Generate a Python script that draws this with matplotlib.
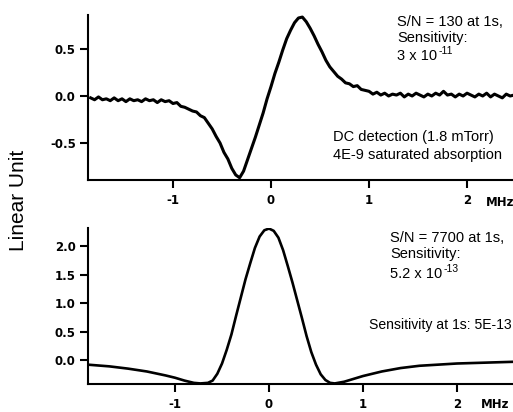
import matplotlib
matplotlib.use("Agg")
import matplotlib.pyplot as plt

plt.rcParams['font.family'] = ['Liberation Sans', 'DejaVu Sans']
plt.rcParams['axes.unicode_minus'] = False

# ---- data: top panel (DC detection, noisy dispersion-like trace) ----
top_x = [-1.84, -1.80, -1.76, -1.72, -1.68, -1.64, -1.60, -1.56, -1.52, -1.48,
         -1.44, -1.40, -1.36, -1.32, -1.28, -1.24, -1.20, -1.16, -1.12, -1.08,
         -1.04, -1.00, -0.96, -0.92, -0.88, -0.84, -0.80, -0.76, -0.72, -0.68,
         -0.64, -0.60, -0.56, -0.52, -0.48, -0.44, -0.40, -0.36, -0.32, -0.28,
         -0.24, -0.20, -0.16, -0.12, -0.08, -0.04, 0.00, 0.04, 0.08, 0.12,
         0.16, 0.20, 0.24, 0.28, 0.32, 0.36, 0.40, 0.44, 0.48, 0.52,
         0.56, 0.60, 0.64, 0.68, 0.72, 0.76, 0.80, 0.84, 0.88, 0.92,
         0.96, 1.00, 1.04, 1.08, 1.12, 1.16, 1.20, 1.24, 1.28, 1.32,
         1.36, 1.40, 1.44, 1.48, 1.52, 1.56, 1.60, 1.64, 1.68, 1.72,
         1.76, 1.80, 1.84, 1.88, 1.92, 1.96, 2.00, 2.04, 2.08, 2.12,
         2.16, 2.20, 2.24, 2.28, 2.32, 2.36, 2.40, 2.44, 2.48]
top_y = [-0.02, -0.04, -0.01, -0.04, -0.03, -0.05, -0.02, -0.05, -0.03, -0.06,
         -0.03, -0.05, -0.04, -0.06, -0.03, -0.05, -0.04, -0.07, -0.04, -0.06,
         -0.05, -0.08, -0.07, -0.11, -0.12, -0.14, -0.16, -0.17, -0.21, -0.23,
         -0.29, -0.35, -0.43, -0.50, -0.60, -0.67, -0.77, -0.84, -0.87, -0.80,
         -0.68, -0.56, -0.44, -0.31, -0.18, -0.03, 0.10, 0.24, 0.36, 0.49,
         0.61, 0.70, 0.78, 0.83, 0.84, 0.79, 0.72, 0.64, 0.55, 0.47,
         0.38, 0.31, 0.26, 0.21, 0.18, 0.14, 0.13, 0.10, 0.11, 0.07,
         0.06, 0.05, 0.02, 0.04, 0.01, 0.03, 0.00, 0.02, 0.01, 0.03,
         -0.01, 0.02, 0.00, 0.03, 0.01, -0.01, 0.02, 0.00, 0.03, 0.01,
         0.05, 0.01, 0.02, -0.01, 0.02, 0.00, 0.03, 0.01, -0.01, 0.02,
         0.00, 0.03, -0.01, 0.02, 0.00, -0.02, 0.02, 0.00, 0.01]

# ---- data: bottom panel (smooth absorption-like trace) ----
bot_x = [-1.93, -1.70, -1.50, -1.30, -1.10, -1.00, -0.90, -0.80, -0.73, -0.65,
         -0.60, -0.55, -0.50, -0.45, -0.40, -0.35, -0.30, -0.25, -0.20, -0.15,
         -0.10, -0.05, 0.00, 0.05, 0.10, 0.15, 0.20, 0.25, 0.30, 0.35,
         0.40, 0.45, 0.50, 0.55, 0.60, 0.65, 0.70, 0.80, 0.90, 1.00,
         1.20, 1.40, 1.60, 1.80, 2.00, 2.20, 2.40, 2.60]
bot_y = [-0.08, -0.11, -0.15, -0.20, -0.27, -0.31, -0.36, -0.40, -0.41, -0.40,
         -0.36, -0.24, -0.06, 0.18, 0.45, 0.78, 1.10, 1.42, 1.70, 1.97,
         2.17, 2.28, 2.31, 2.27, 2.15, 1.93, 1.65, 1.36, 1.05, 0.74,
         0.42, 0.14, -0.08, -0.25, -0.35, -0.40, -0.41, -0.38, -0.33, -0.28,
         -0.20, -0.14, -0.10, -0.08, -0.06, -0.05, -0.04, -0.03]

top_yticks = [-0.5, 0.0, 0.5]
top_yticklabels = ['-0.5', '0.0', '0.5']
bot_yticks = [0.0, 0.5, 1.0, 1.5, 2.0]
bot_yticklabels = ['0.0', '0.5', '1.0', '1.5', '2.0']
xticks = [-1, 0, 1, 2]
xticklabels = ['-1', '0', '1', '2']

W, H = 513.0, 412.0
fig = plt.figure(figsize=(5.13, 4.12), dpi=100)
ax1 = fig.add_axes([88 / W, 1 - 180 / H, 1 - 88 / W, (180 - 15) / H])
ax2 = fig.add_axes([88 / W, 1 - 384 / H, 1 - 88 / W, (384 - 228) / H])

ax1.plot(top_x, top_y, color='black', lw=2.2, solid_joinstyle='round')
ax1.set_xlim(-1.867, 2.469)
ax1.set_ylim(-0.894, 0.862)

ax2.plot(bot_x, bot_y, color='black', lw=1.9, solid_joinstyle='round')
ax2.set_xlim(-1.926, 2.596)
ax2.set_ylim(-0.42, 2.32)

tick_font = dict(family='DejaVu Sans', weight='bold', size=8.5)
for ax, yt, ytl in [(ax1, top_yticks, top_yticklabels), (ax2, bot_yticks, bot_yticklabels)]:
    for s in ['top', 'right']:
        ax.spines[s].set_visible(False)
    for s in ['left', 'bottom']:
        ax.spines[s].set_linewidth(1.5)
    ax.set_yticks(yt)
    ax.set_yticklabels(ytl, fontdict=tick_font)
    ax.set_xticks(xticks)
    ax.set_xticklabels(xticklabels, fontdict=tick_font)
    ax.tick_params(axis='both', direction='out', length=5.8, width=1.5)
    ax.tick_params(axis='y', pad=3)
    ax.tick_params(axis='x', pad=4)

# MHz labels
fig.text(500 / W, 1 - 202 / H, 'MHz', ha='center', va='center', **tick_font)
fig.text(495 / W, 1 - 404 / H, 'MHz', ha='center', va='center', **tick_font)

# y label
fig.text(19 / W, 1 - 200 / H, 'Linear Unit', rotation=90, ha='center', va='center', fontsize=15)

fs = 10.5
sup = 7.5


def with_superscript(x, y, base, exponent):
    t = fig.text(x / W, 1 - y / H, base, ha='left', va='center', fontsize=fs)
    fig.add_artist(matplotlib.text.Annotation(
        exponent, xy=(1.0, 0.85), xycoords=t, xytext=(1.0, 0.0),
        textcoords='offset points', ha='left', va='center', fontsize=sup,
        annotation_clip=False))


# top annotations
fig.text(397 / W, 1 - 22 / H, 'S/N = 130 at 1s,', ha='left', va='center', fontsize=fs)
fig.text(397 / W, 1 - 38 / H, 'Sensitivity:', ha='left', va='center', fontsize=fs)
with_superscript(397, 56, '3 x 10', '-11')
fig.text(333 / W, 1 - 137 / H, 'DC detection (1.8 mTorr)', ha='left', va='center', fontsize=fs)
fig.text(333 / W, 1 - 155 / H, '4E-9 saturated absorption', ha='left', va='center', fontsize=fs)

# bottom annotations
fig.text(390 / W, 1 - 238 / H, 'S/N = 7700 at 1s,', ha='left', va='center', fontsize=fs)
fig.text(390 / W, 1 - 254 / H, 'Sensitivity:', ha='left', va='center', fontsize=fs)
with_superscript(390, 274, '5.2 x 10', '-13')
fig.text(369 / W, 1 - 325 / H, 'Sensitivity at 1s: 5E-13', ha='left', va='center', fontsize=10.1)

fig.savefig('out.png', dpi=100)
